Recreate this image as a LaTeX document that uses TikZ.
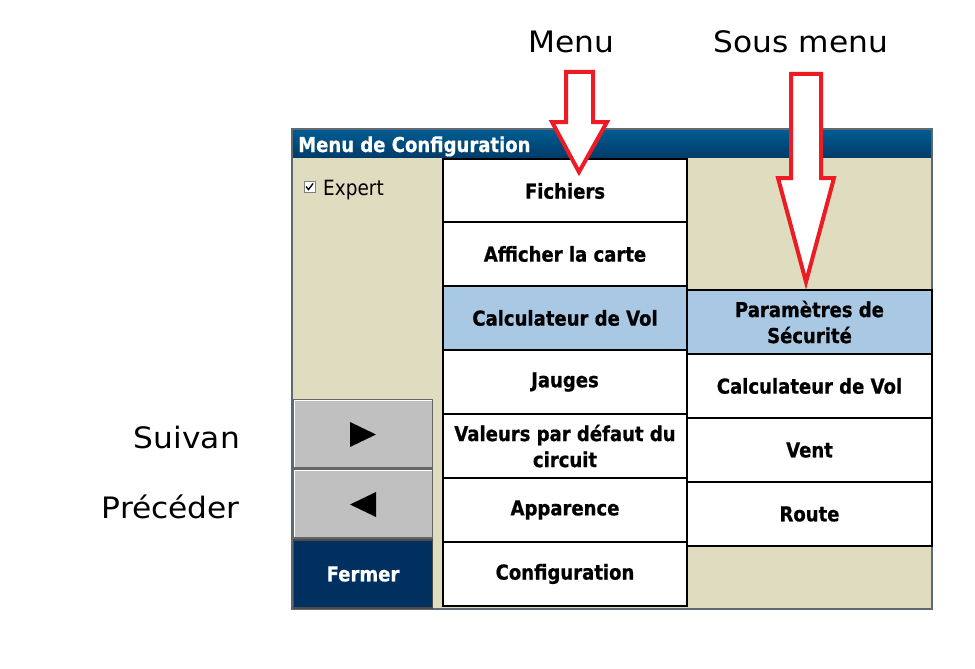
\documentclass[tikz,border=0pt]{standalone}
\usepackage{fontspec}
\newfontfamily\uifont[FakeStretch=0.88, BoldFeatures={FakeBold=0.8}]{DejaVu Sans}
\newfontfamily\lblfont[FakeStretch=1.06]{DejaVu Sans}
\definecolor{beige}{RGB}{224,220,192}
\definecolor{selblue}{RGB}{169,200,227}
\definecolor{navy}{RGB}{0,48,96}
\definecolor{tbtop}{RGB}{0,92,146}
\definecolor{tbbot}{RGB}{0,60,105}
\definecolor{arrowred}{RGB}{237,28,36}
\definecolor{btngray}{RGB}{192,192,192}
\definecolor{frame}{RGB}{96,104,112}
\tikzset{
  cell/.style={draw=black, line width=2pt, fill=white, minimum width=245pt, minimum height=64pt,
    inner sep=0pt, align=center, font=\uifont\bfseries\fontsize{20.5}{26}\selectfont},
  selcell/.style={cell, fill=selblue},
  btn/.style={draw=gray!80!black, line width=1.5pt, fill=btngray, minimum width=139pt, minimum height=68pt, inner sep=0pt},
  closebtn/.style={btn, fill=navy, draw=gray!60!black, text=white, font=\uifont\bfseries\fontsize{20.5}{26}\selectfont},
  biglbl/.style={font=\lblfont\fontsize{29.5}{34}\selectfont, inner sep=0pt},
  redarrow/.style={draw=arrowred, line width=4pt, fill=white, line join=miter},
}
\begin{document}
\begin{tikzpicture}[x=1pt,y=-1pt]
\useasboundingbox (0,0) rectangle (975,669);
\fill[white] (0,0) rectangle (975,669);
% window
\draw[frame, line width=2pt, fill=beige] (292,129) rectangle (932,609);
\shade[top color=tbtop, bottom color=tbbot] (293,130) rectangle (931,157);
\node[anchor=base west, text=white, font=\uifont\bfseries\fontsize{20.5}{26}\selectfont, inner sep=0pt] (title) at (298,152) {Menu de Configuration};
% expert checkbox
\draw[gray, line width=1pt, fill=white] (304,181) rectangle (315,192);
\draw[black, line width=1.3pt] (306,186.5) -- (308.5,189.5) -- (313,183.5);
\node[anchor=base west, font=\uifont\fontsize{21}{24}\selectfont, inner sep=0pt] (expert) at (323,195) {Expert};
% buttons
\node[btn] (next) at (363,434) {};
\node[btn] (prev) at (363,504) {};
\node[closebtn] (close) at (363,574) {Fermer};
\draw[white, line width=1pt] (next.south west) ++(1.5,-1.5) |- ([shift={(-1.5,1.5)}]next.north east);
\draw[white, line width=1pt] (prev.south west) ++(1.5,-1.5) |- ([shift={(-1.5,1.5)}]prev.north east);
\fill[black] (350,422) -- (376,434.5) -- (350,447) -- cycle;
\fill[black] (376,492) -- (350,504.5) -- (376,517) -- cycle;
% menu column
\node[cell, minimum width=244pt] (m1) at (565,191) {Fichiers};
\node[cell, minimum width=244pt] (m2) at (565,254) {Afficher la carte};
\node[selcell, minimum width=244pt] (m3) at (565,318) {Calculateur de Vol};
\node[cell, minimum width=244pt] (m4) at (565,382) {Jauges};
\node[cell, minimum width=244pt] (m5) at (565,446) {Valeurs par défaut du\\circuit};
\node[cell, minimum width=244pt] (m6) at (565,510) {Apparence};
\node[cell, minimum width=244pt] (m7) at (565,574) {Configuration};
% sub menu column
\node[selcell] (s1) at (809.5,322) {Paramètres de\\Sécurité};
\node[cell] (s2) at (809.5,386) {Calculateur de Vol};
\node[cell] (s3) at (809.5,450) {Vent};
\node[cell] (s4) at (809.5,514) {Route};
% labels
\node[biglbl, anchor=base] (lmenu) at (571,53) {Menu};
\node[biglbl, anchor=base] (lsous) at (801,53) {Sous menu};
\node[biglbl, anchor=base east] (lsuiv) at (240,448) {Suivan};
\node[biglbl, anchor=base east] (lprec) at (240,518) {Précéder};
% red arrows
\draw[redarrow] (566,72) -- (593,72) -- (593,122) -- (607,122) -- (579,172) -- (552,122) -- (566,122) -- cycle;
\draw[redarrow] (791,74) -- (821,74) -- (821,178) -- (834,178) -- (806,282) -- (778,178) -- (791,178) -- cycle;
\end{tikzpicture}
\end{document}
